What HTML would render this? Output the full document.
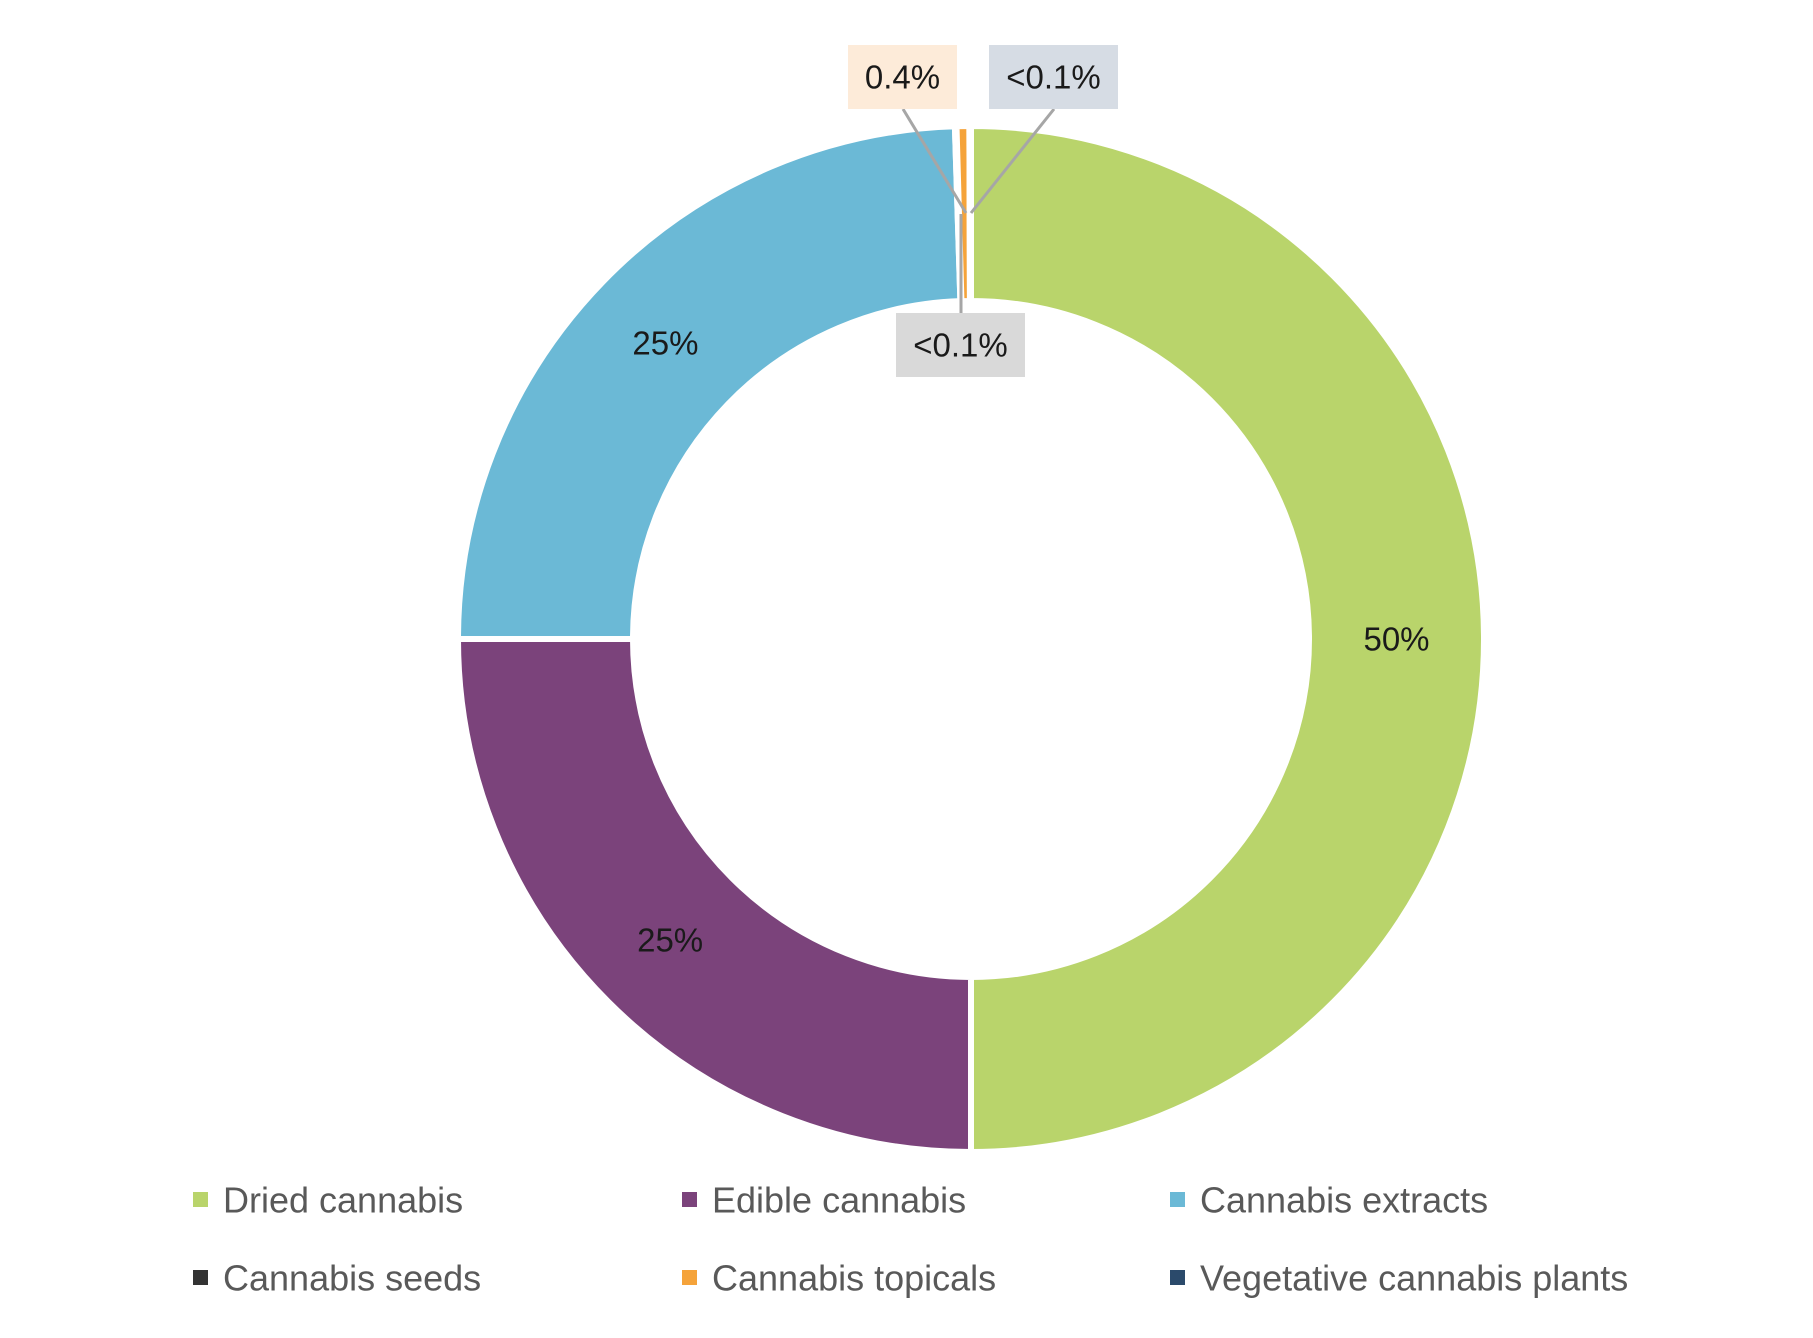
<!DOCTYPE html>
<html><head><meta charset="utf-8"><style>
html,body{margin:0;padding:0;background:#fff;}
svg{display:block;font-family:"Liberation Sans Narrow","Liberation Sans",sans-serif;}
</style></head><body>
<svg id="chart" width="1813" height="1338" viewBox="0 0 1813 1338" xmlns="http://www.w3.org/2000/svg">
<g id="slices"></g>
<g id="labels"></g>
<g id="legend"></g>
</svg>
<script>
const categories = ["Dried cannabis","Edible cannabis","Cannabis extracts","Cannabis seeds","Cannabis topicals","Vegetative cannabis plants"];
const values = [50, 25, 24.5, 0.05, 0.4, 0.05];
const labelTexts = ["50%","25%","25%","<0.1%","0.4%","<0.1%"];
const colors = ["#b9d46b","#7b437b","#6bb9d6","#333333","#f5a33a","#2b4a6b"];

const NS="http://www.w3.org/2000/svg";
const cx=971, cy=639, R=513, r=338;
const total=values.reduce((a,b)=>a+b,0);
function pt(rad,ang){return [cx+rad*Math.sin(ang), cy-rad*Math.cos(ang)];}
const gS=document.getElementById('slices'), gL=document.getElementById('labels'), gLg=document.getElementById('legend');
let acc=0;
const mids=[];
values.forEach((v,i)=>{
  const a0=acc/total*2*Math.PI; acc+=v; const a1=acc/total*2*Math.PI;
  mids.push((a0+a1)/2);
  const large=(a1-a0)>Math.PI?1:0;
  const [x0,y0]=pt(R,a0),[x1,y1]=pt(R,a1),[x2,y2]=pt(r,a1),[x3,y3]=pt(r,a0);
  const p=document.createElementNS(NS,'path');
  p.setAttribute('d',`M${x0},${y0}A${R},${R} 0 ${large} 1 ${x1},${y1}L${x2},${y2}A${r},${r} 0 ${large} 0 ${x3},${y3}Z`);
  p.setAttribute('fill',colors[i]);
  p.setAttribute('stroke','#fff');
  p.setAttribute('stroke-width','6');
  
  
  gS.appendChild(p);
});
function txt(parent,x,y,s,size,fill,anchor,name){
  const t=document.createElementNS(NS,'text');
  t.setAttribute('x',x);t.setAttribute('y',y);t.setAttribute('font-size',size);
  t.setAttribute('fill',fill);t.setAttribute('text-anchor',anchor);t.setAttribute('dominant-baseline','central');
  t.textContent=s;
  
  
  parent.appendChild(t);return t;
}
[0,1,2].forEach(i=>{
  const [x,y]=pt((R+r)/2,mids[i]);
  txt(gL,x,y,labelTexts[i],33,'#1a1a1a','middle','label-'+i);
});
const boxes=[
 {i:3,x:896,y:313,w:129,h:64,bg:"#d9d9d9",lx1:961,ly1:313,lx2:961,ly2:214},
 {i:4,x:848,y:45,w:109,h:64,bg:"#fdebd9",lx1:903,ly1:109,lx2:966,ly2:213},
 {i:5,x:989,y:45,w:129,h:64,bg:"#d6dce4",lx1:1054,ly1:109,lx2:971,ly2:213}
];
boxes.forEach(b=>{
  const l=document.createElementNS(NS,'line');
  l.setAttribute('x1',b.lx1);l.setAttribute('y1',b.ly1);l.setAttribute('x2',b.lx2);l.setAttribute('y2',b.ly2);
  l.setAttribute('stroke','#a6a6a6');l.setAttribute('stroke-width','3');
  
  
  gL.appendChild(l);
  const rc=document.createElementNS(NS,'rect');
  rc.setAttribute('x',b.x);rc.setAttribute('y',b.y);rc.setAttribute('width',b.w);rc.setAttribute('height',b.h);rc.setAttribute('fill',b.bg);
  
  
  gL.appendChild(rc);
  txt(gL,b.x+b.w/2,b.y+b.h/2,labelTexts[b.i],33,'#1a1a1a','middle','label-'+b.i);
});
const colX=[193,682,1170], rowY=[1200,1278];
categories.forEach((c,i)=>{
  const x=colX[i%3], y=rowY[Math.floor(i/3)];
  const m=document.createElementNS(NS,'rect');
  m.setAttribute('x',x);m.setAttribute('y',y-8);m.setAttribute('width',15);m.setAttribute('height',15);m.setAttribute('fill',colors[i]);
  
  
  gLg.appendChild(m);
  txt(gLg,x+30,y,c,36,'#595959','start','legend-entry');
});
</script>
</body></html>
